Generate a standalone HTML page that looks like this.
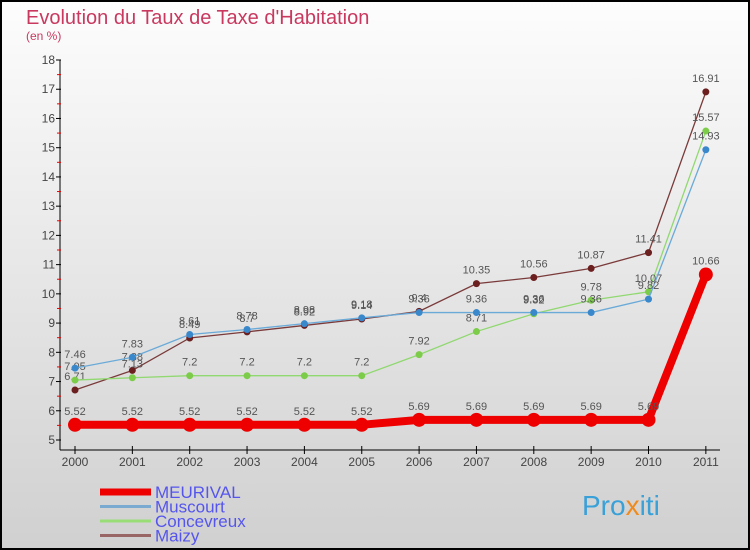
<!DOCTYPE html>
<html><head><meta charset="utf-8"><style>
body{margin:0;width:750px;height:550px;overflow:hidden;font-family:"Liberation Sans",sans-serif}
svg{display:block}
</style></head><body>
<svg id="c" width="750" height="550" xmlns="http://www.w3.org/2000/svg">
<defs><linearGradient id="bg" x1="0" y1="0" x2="0" y2="1"><stop offset="0" stop-color="#fdfdfd"/><stop offset="1" stop-color="#d0d0d0"/></linearGradient></defs>
<rect x="1" y="1" width="748" height="548" fill="url(#bg)" stroke="#000" stroke-width="2"/>
<text x="26" y="24" font-size="20" fill="#c8385f">Evolution du Taux de Taxe d'Habitation</text>
<text x="26" y="40" font-size="12" fill="#c8385f">(en %)</text>
<g id="axes"></g><g id="series"></g><g id="legend"></g>
<text x="582" y="515" font-size="28" fill="#3aa0d8">Pro<tspan fill="#f08a1c">x</tspan>iti</text>
</svg>
<script>
const years=["2000","2001","2002","2003","2004","2005","2006","2007","2008","2009","2010","2011"];
const yTicks=[5,6,7,8,9,10,11,12,13,14,15,16,17,18];
const meurival=[5.52,5.52,5.52,5.52,5.52,5.52,5.69,5.69,5.69,5.69,5.69,10.66];
const muscourt=[7.46,7.83,8.61,8.78,8.98,9.18,9.36,9.36,9.36,9.36,9.82,14.93];
const concevreux=[7.05,7.13,7.2,7.2,7.2,7.2,7.92,8.71,9.32,9.78,10.07,15.57];
const maizy=[6.71,7.38,8.49,8.7,8.92,9.14,9.4,10.35,10.56,10.87,11.41,16.91];
const NS="http://www.w3.org/2000/svg";
const x=i=>75+i*57.35, y=v=>440-(v-5)*29.23;
function mk(t,a,p){const e=document.createElementNS(NS,t);for(const k in a)e.setAttribute(k,a[k]);p.appendChild(e);return e;}
const ax=document.getElementById('axes');
let l=mk('line',{x1:60,y1:60,x2:60,y2:450,stroke:'#000'},ax);


l=mk('line',{x1:60,y1:450,x2:720,y2:450,stroke:'#000'},ax);


yTicks.forEach(v=>{
 mk('line',{x1:56,y1:y(v),x2:61,y2:y(v),stroke:'#000'},ax);
 if(v<18)mk('line',{x1:57,y1:y(v+0.5),x2:61,y2:y(v+0.5),stroke:'#e00'},ax);
 const t=mk('text',{x:55,y:y(v)+4,'font-size':12,fill:'#444','text-anchor':'end'},ax);t.textContent=v;
 
 
});
years.forEach((yr,i)=>{
 mk('line',{x1:x(i),y1:446,x2:x(i),y2:454,stroke:'#000'},ax);
 const t=mk('text',{x:x(i),y:466,'font-size':12,fill:'#444','text-anchor':'middle'},ax);t.textContent=yr;
 
 
});
const sg=document.getElementById('series');
const defs=[
 {n:'maizy',d:maizy,c:'#7a3a3a',f:'#6b1f1f',w:1.3,r:3.5},
 {n:'concevreux',d:concevreux,c:'#90d870',f:'#7ccc4a',w:1.3,r:3.5},
 {n:'muscourt',d:muscourt,c:'#6aaad8',f:'#3a88cc',w:1.3,r:3.5},
 {n:'meurival',d:meurival,c:'#ee0000',f:'#ee0000',w:8,r:7}];
defs.forEach(s=>{
 const p=mk('polyline',{points:s.d.map((v,i)=>x(i)+','+y(v)).join(' '),fill:'none',stroke:s.c,'stroke-width':s.w},sg);
 
 
 s.d.forEach((v,i)=>{
  const c=mk('circle',{cx:x(i),cy:y(v),r:s.r,fill:s.f},sg);
  
  
  const t=mk('text',{x:x(i),y:y(v)-10,'font-size':11,fill:'#555','text-anchor':'middle'},sg);t.textContent=v;
  
  
 });
});
const lg=document.getElementById('legend');
[['MEURIVAL','#ee0000',7],['Muscourt','#7aaad0',3],['Concevreux','#99dd77',3],['Maizy','#996666',3]].forEach((e,i)=>{
 const yy=492+i*14.5;
 mk('line',{x1:100,y1:yy,x2:151,y2:yy,stroke:e[1],'stroke-width':e[2]},lg);
 const t=mk('text',{x:155,y:yy+6,'font-size':17,fill:'#5555ee'},lg);t.textContent=e[0];
 
 
});
</script>
</body></html>
